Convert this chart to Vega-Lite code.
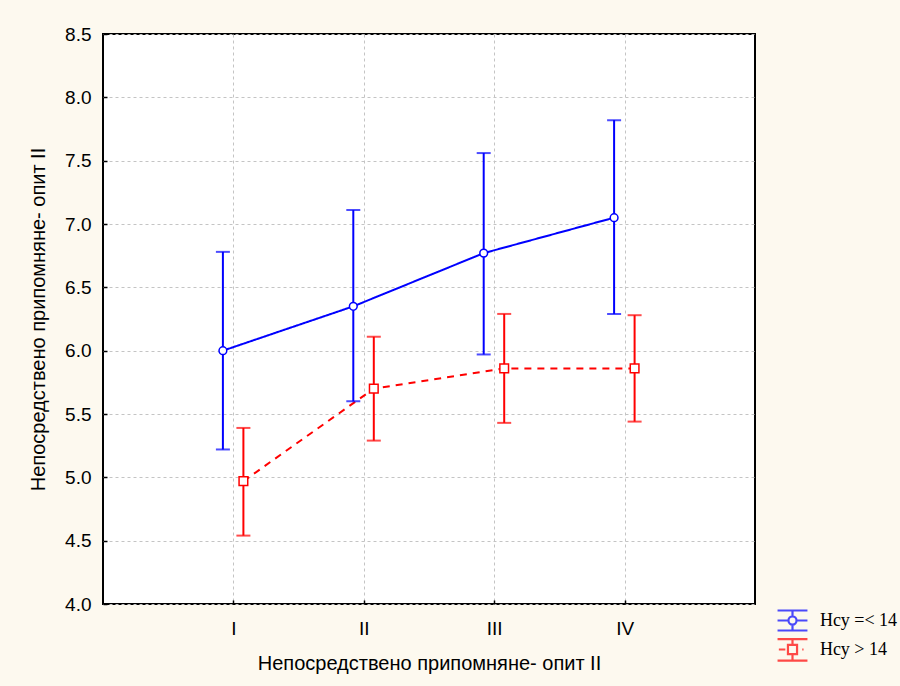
{
  "$schema": "https://vega.github.io/schema/vega-lite/v6.json",
  "width": 652,
  "height": 570,
  "autosize": {"type": "none"},
  "padding": {"left": 103, "top": 34, "right": 145, "bottom": 82},
  "background": "#fdf9ef",
  "config": {
    "view": {"stroke": "black", "strokeWidth": 2, "fill": "white"},
    "axis": {
      "domain": false,
      "grid": true,
      "gridColor": "#c4c4c4",
      "gridDash": [3, 3],
      "gridWidth": 1,
      "tickColor": "black",
      "tickSize": -4,
      "tickWidth": 1.5,
      "labelFont": "Liberation Sans",
      "labelFontSize": 19,
      "labelColor": "black",
      "titleFont": "Liberation Sans",
      "titleFontSize": 20,
      "titleFontWeight": "normal",
      "titleColor": "black"
    }
  },
  "data": {
    "values": [
      {"group": "Нсу =< 14", "cond": "I", "mean": 6.00, "lo": 5.22, "hi": 6.78},
      {"group": "Нсу =< 14", "cond": "II", "mean": 6.35, "lo": 5.60, "hi": 7.11},
      {"group": "Нсу =< 14", "cond": "III", "mean": 6.77, "lo": 5.97, "hi": 7.56},
      {"group": "Нсу =< 14", "cond": "IV", "mean": 7.05, "lo": 6.29, "hi": 7.82},
      {"group": "Нсу > 14", "cond": "I", "mean": 4.97, "lo": 4.54, "hi": 5.39},
      {"group": "Нсу > 14", "cond": "II", "mean": 5.70, "lo": 5.29, "hi": 6.11},
      {"group": "Нсу > 14", "cond": "III", "mean": 5.86, "lo": 5.43, "hi": 6.29},
      {"group": "Нсу > 14", "cond": "IV", "mean": 5.86, "lo": 5.44, "hi": 6.28}
    ]
  },
  "encoding": {
    "x": {
      "field": "cond",
      "type": "ordinal",
      "sort": ["I", "II", "III", "IV"],
      "scale": {"type": "point", "padding": 1},
      "axis": {
        "title": "Непосредствено припомняне- опит II",
        "labelAngle": 0,
        "labelPadding": 19,
        "titlePadding": 15
      }
    },
    "xOffset": {
      "field": "group",
      "type": "nominal",
      "sort": ["Нсу =< 14", "Нсу > 14"],
      "scale": {"type": "point", "range": [-10.5, 10], "padding": 0}
    }
  },
  "layer": [
    {
      "mark": {"type": "line", "strokeWidth": 2},
      "encoding": {
        "y": {
          "field": "mean",
          "type": "quantitative",
          "scale": {"domain": [4, 8.5], "nice": false, "zero": false},
          "axis": {
            "title": "Непосредствено припомняне- опит II",
            "values": [4, 4.5, 5, 5.5, 6, 6.5, 7, 7.5, 8, 8.5],
            "format": ".1f",
            "labelPadding": 16,
            "titlePadding": 16
          }
        },
        "color": {
          "field": "group",
          "type": "nominal",
          "scale": {"range": ["#0000ff", "#ff0000"]},
          "legend": null
        },
        "strokeDash": {
          "field": "group",
          "type": "nominal",
          "scale": {"range": [[1, 0], [7, 6]]},
          "legend": null
        }
      }
    },
    {
      "mark": {"type": "rule", "strokeWidth": 2},
      "encoding": {
        "y": {"field": "lo", "type": "quantitative"},
        "y2": {"field": "hi"},
        "color": {"field": "group", "type": "nominal", "legend": null}
      }
    },
    {
      "mark": {"type": "tick", "orient": "horizontal", "size": 14, "thickness": 2},
      "encoding": {
        "y": {"field": "lo", "type": "quantitative"},
        "color": {"field": "group", "type": "nominal", "legend": null}
      }
    },
    {
      "mark": {"type": "tick", "orient": "horizontal", "size": 14, "thickness": 2},
      "encoding": {
        "y": {"field": "hi", "type": "quantitative"},
        "color": {"field": "group", "type": "nominal", "legend": null}
      }
    },
    {
      "transform": [{"filter": "datum.group === 'Нсу =< 14'"}],
      "mark": {"type": "point", "shape": "circle", "filled": true, "fill": "white", "stroke": "#0000ff", "strokeWidth": 1.5, "size": 60, "opacity": 1},
      "encoding": {
        "y": {"field": "mean", "type": "quantitative"}
      }
    },
    {
      "transform": [{"filter": "datum.group === 'Нсу > 14'"}],
      "mark": {"type": "point", "shape": "square", "filled": true, "fill": "white", "stroke": "#ff0000", "strokeWidth": 1.5, "size": 75, "opacity": 1},
      "encoding": {
        "y": {"field": "mean", "type": "quantitative"}
      }
    },
    {
      "transform": [{"filter": "datum.mean < 0"}],
      "mark": {"type": "point", "filled": false, "strokeWidth": 2},
      "encoding": {
        "y": {"field": "mean", "type": "quantitative"},
        "stroke": {
          "field": "group",
          "type": "nominal",
          "scale": {"domain": ["Нсу =< 14", "Нсу > 14"], "range": ["#0000ff", "#ff0000"]},
          "legend": {
            "title": null,
            "orient": "none",
            "legendX": 675,
            "legendY": 572,
            "padding": 0,
            "rowPadding": -4,
            "symbolSize": 676,
            "symbolStrokeWidth": 2.2,
            "symbolFillColor": "white",
            "labelFont": "Liberation Serif",
            "labelFontSize": 18,
            "labelColor": "black",
            "labelOffset": 13
          }
        },
        "shape": {
          "field": "group",
          "type": "nominal",
          "scale": {
            "domain": ["Нсу =< 14", "Нсу > 14"],
            "range": [
              "M-1.15,-0.77H1.15M-1.15,0.77H1.15M0,-0.77V-0.31M0,0.31V0.77M-1.15,0H-0.31M0.31,0H1.15M0.31,0A0.31,0.31,0,1,1,-0.31,0A0.31,0.31,0,1,1,0.31,0Z",
              "M-1.15,-0.8H1.15M-1.15,0.85H1.15M0,-0.8V-0.35M0,0.35V0.85M-1.05,0H-0.55M0.75,0H0.85M-0.35,-0.35H0.35V0.35H-0.35Z"
            ]
          },
          "legend": {
            "title": null,
            "orient": "none",
            "legendX": 675,
            "legendY": 572,
            "padding": 0,
            "rowPadding": -4,
            "symbolSize": 676,
            "symbolStrokeWidth": 2.2,
            "symbolFillColor": "white",
            "labelFont": "Liberation Serif",
            "labelFontSize": 18,
            "labelColor": "black",
            "labelOffset": 13
          }
        }
      }
    }
  ]
}
